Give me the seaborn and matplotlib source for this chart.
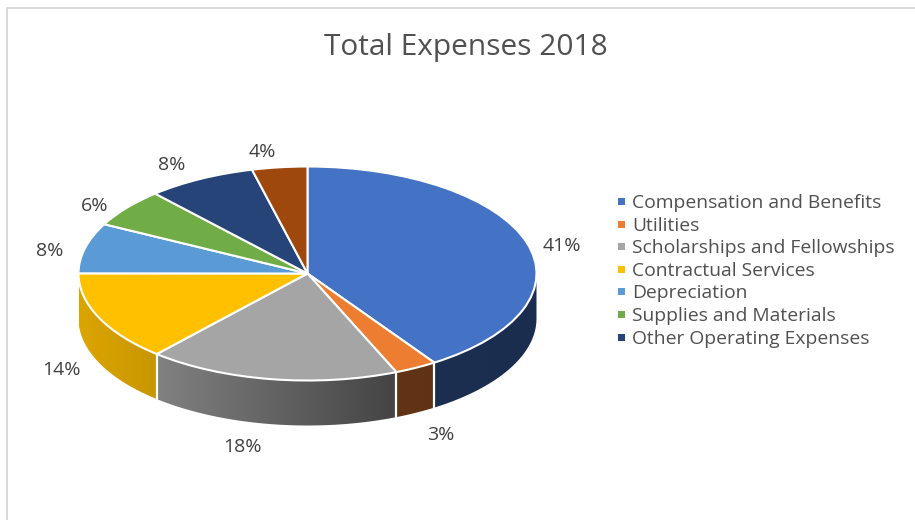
import numpy as np
import matplotlib
matplotlib.use("Agg")
import matplotlib.pyplot as plt
from matplotlib.colors import to_rgb
from matplotlib.patches import Polygon, Rectangle
import seaborn as sns

categories = ["Compensation and Benefits", "Utilities", "Scholarships and Fellowships",
              "Contractual Services", "Depreciation", "Supplies and Materials",
              "Other Operating Expenses", "Other"]
values = [40.7, 3.0, 17.8, 13.6, 7.6, 5.8, 7.7, 3.9]
colors = ["#4472C4", "#ED7D31", "#A5A5A5", "#FFC000", "#5B9BD5", "#70AD47", "#264478", "#9E480E"]
legend_count = 7
title = "Total Expenses 2018"

sns.set_theme(style="white")
plt.rcParams["font.family"] = ["Open Sans", "DejaVu Sans"]
W, H = 915, 520
fig = plt.figure(figsize=(W / 100, H / 100), dpi=100, facecolor="white")
cx, cy, rx, ry, depth = 307.5, 273.5, 229, 107, 45
ax = fig.add_axes([(cx - rx * 1.25) / W, 1 - (cy + ry * 1.6) / H, rx * 2.5 / W, ry * 3.2 / H])
wedges, _ = ax.pie(values, colors=colors, startangle=90, counterclock=False, radius=1,
                   wedgeprops=dict(edgecolor="white", linewidth=1.5, zorder=5))
d = depth / ry

edges = 90 - np.cumsum([0] + values) / sum(values) * 360


def shade(x):
    return np.interp(x, [-1, -0.655, 0.393, 1], [0.86, 0.78, 0.41, 0.40])


# side wall built from the same shares, a smooth left-to-right shading clipped to each wedge
for i, col in enumerate(colors):
    a0, a1 = edges[i], edges[i + 1]
    th = np.radians(np.linspace(a0, a1, 200))
    th = th[np.sin(th) <= 0]
    if len(th) < 2:
        continue
    xs, ys = np.cos(th), np.sin(th)
    poly = np.column_stack([np.r_[xs, xs[::-1]], np.r_[ys, ys[::-1] - d]])
    base = np.array(to_rgb(col))
    gx = np.linspace(xs.min(), xs.max(), 256)
    img = (shade(gx)[:, None] * base[None, :])[None, :, :]
    patch = Polygon(poly, closed=True, fc="none", ec="none")
    ax.add_patch(patch)
    im = ax.imshow(img, extent=(gx[0], gx[-1], ys.min() - d - 0.02, ys.max() + 0.02),
                   aspect="auto", zorder=2, interpolation="bilinear")
    im.set_clip_path(patch)
    t = np.radians(a1)
    if np.sin(t) < 0:
        ax.plot([np.cos(t)] * 2, [np.sin(t), np.sin(t) - d], color="white", lw=1.6, zorder=3)

ax.set_aspect("auto")
ax.set_xlim(-1.25, 1.25)
ax.set_ylim(-1.6, 1.6)

# percentage labels, placed per wedge around the solid (radial factor, extra offset in px)
label_r = [(1.105, 12, -7), (1.0, 25, -67), (1.03, -27, -65), (1.16, -4, -45), (1.13, -6, -6),
           (1.15, -5, -8), (1.13, -15, 2), (1.14, -13, 0)]
for i, v in enumerate(values):
    m = np.radians((edges[i] + edges[i + 1]) / 2)
    fx, ox, oy = label_r[i]
    ax.annotate(f"{v:.0f}%", (fx * np.cos(m), fx * np.sin(m)), xytext=(ox * 0.72, oy * 0.72),
                textcoords="offset points", ha="center", va="center",
                fontsize=14, color="#404040", zorder=6, annotation_clip=False)

fig.text(466 / W, 1 - 48 / H, title, ha="center", va="center", fontsize=21.5, color="#505050")

ly = [203, 226, 248, 271, 293, 316, 339]
for i in range(legend_count):
    fig.patches.append(Rectangle((618 / W, 1 - (ly[i] + 2) / H), 7 / W, 7 / H, transform=fig.transFigure,
                                 fc=colors[i], ec="none", figure=fig))
    fig.text(632 / W, 1 - ly[i] / H, categories[i], ha="left", va="center", fontsize=13.9, color="#505050")

# pasted-screenshot frame: top and left edges only
for xs, ys in [([7, 915], [8, 8]), ([7, 7], [8, 520])]:
    fig.add_artist(plt.Line2D(np.array(xs) / W, 1 - np.array(ys) / H, color="#D9D9D9", lw=1.4))

fig.savefig("out.png", dpi=100)
